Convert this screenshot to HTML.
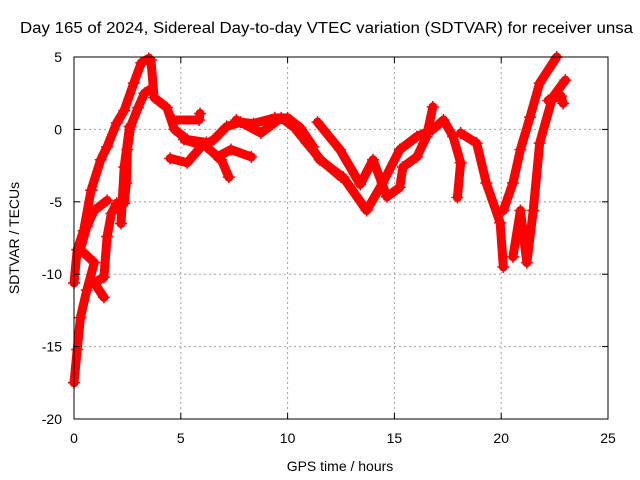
<!DOCTYPE html>
<html><head><meta charset="utf-8"><style>body{margin:0;background:#fff}svg{display:block;font-family:"Liberation Sans",sans-serif}</style></head>
<body>
<svg id="c" width="640" height="480">
<rect width="640" height="480" fill="#fff"/>
<g id="grid"></g>
<g id="series"></g>
<rect x="74" y="57" width="534" height="362" fill="none" stroke="#000" stroke-width="1"/>
<g id="ticks"></g>
<text x="20" y="33" font-size="15.5" textLength="613" lengthAdjust="spacingAndGlyphs">Day 165 of 2024, Sidereal Day-to-day VTEC variation (SDTVAR) for receiver unsa</text>
<text x="340" y="471" text-anchor="middle" font-size="14">GPS time / hours</text>
<text transform="translate(19,238) rotate(-90)" text-anchor="middle" font-size="14">SDTVAR / TECUs</text>
</svg>
<script>
const xTicks=[0,5,10,15,20,25];
const yTicks=[5,0,-5,-10,-15,-20];
const track1=[[0,-10.6],[0.15,-8.3],[0.45,-7],[0.8,-4.2],[1.25,-2.1],[1.55,-1.2],[2,0.45],[2.35,1.3],[2.8,3.2],[3.15,4.6],[3.5,4.9],[3.6,4.8],[3.75,2.2],[4.35,1.5],[4.7,0],[5.3,-0.7],[6.2,-0.9]];
const track2=[[1.4,-11.6],[0.95,-10.6],[1.4,-10.2],[1.55,-7.4],[1.75,-5.8],[2,-5.1],[2.35,-5.1],[2.45,-3.7],[2.5,-1.4],[2.65,0.2],[3,1.5],[3.3,2.5],[3.6,2.8]];
const track3=[[0,-17.5],[0.15,-15.2],[0.3,-13],[0.6,-11.1],[0.95,-9.2],[0.3,-8.3],[0.6,-6.7],[0.95,-5.6],[1.55,-4.9]];
const track4=[[2.2,-6.5],[2.35,-2.6],[2.6,0.2]];
const track5=[[4.68,0.65],[5.85,0.65],[5.9,1.1]];
const track6=[[4.5,-2],[5.3,-2.3],[5.95,-1.2],[6.55,-0.7],[7.15,0.2],[7.8,0.5],[8.4,0.4],[9.4,0.8],[10,0.8],[10.6,0.1],[11.2,-1.2]];
const track7=[[5.15,-0.7],[6.2,-1.2],[6.9,-2.1],[7.25,-3.3]];
const track8=[[6.7,-1.9],[7.35,-1.4],[8.3,-1.9]];
const track9=[[7.6,0.65],[8.75,-0.25],[9.7,0.8],[10.3,0.15],[10.9,-0.95],[11.55,-2.1],[12.5,-3.3]];
const track10=[[10.6,0],[11.5,-2.1],[12.6,-3.3],[13.7,-5.6],[14.45,-3.7],[15.25,-1.4],[16.05,-0.5],[16.8,0],[17.3,0.65],[17.75,-0.5],[18.1,-2.3],[17.95,-4.7]];
const track11=[[11.4,0.5],[12.45,-1.4],[13.4,-3.8],[14,-2.1],[14.65,-4.65],[15.25,-4],[15.4,-2.6],[16.05,-1.9],[16.5,-0.5],[16.8,1.55]];
const track12=[[18.1,-0.25],[18.85,-0.95],[19.3,-3.7],[19.95,-6.45],[20.1,-9.5]];
const track13=[[20.1,-5.6],[20.55,-3.7],[20.9,-1.4],[21.35,0.85],[21.8,3.2],[22.6,5]];
const track14=[[20.55,-8.8],[20.9,-5.6],[21.2,-9.2],[21.5,-5.6],[21.8,-0.95],[22.4,2.2],[23,3.4]];
const track15=[[22.2,2],[22.8,2.3],[22.9,1.8]];
const tracks=[track1,track2,track3,track4,track5,track6,track7,track8,track9,track10,track11,track12,track13,track14,track15];

const NS='http://www.w3.org/2000/svg';
const X0=74,X1=608,Y0=419,Y1=57;
function sx(v){return X0+(v-0)/25*(X1-X0);}
function sy(v){return Y0-(v+20)/25*(Y0-Y1);}
function mk(t,a,p){const e=document.createElementNS(NS,t);for(const k in a)e.setAttribute(k,a[k]);p.appendChild(e);return e;}
const grid=document.getElementById('grid'),ticks=document.getElementById('ticks'),ser=document.getElementById('series');
xTicks.forEach(v=>{const x=sx(v);
 if(v>0&&v<25){const l=mk('line',{x1:x,x2:x,y1:Y1,y2:Y0,stroke:'#a0a0a0','stroke-dasharray':'2,3'},grid);
 
 }
 const t=mk('text',{x:x,y:443,'text-anchor':'middle','font-size':14},ticks);t.textContent=v;
 
 
 mk('line',{x1:x,x2:x,y1:Y0,y2:Y0-6,stroke:'#000'},ticks);mk('line',{x1:x,x2:x,y1:Y1,y2:Y1+6,stroke:'#000'},ticks);});
yTicks.forEach(v=>{const y=sy(v);
 if(v<5&&v>-20){const l=mk('line',{x1:X0,x2:X1,y1:y,y2:y,stroke:'#a0a0a0','stroke-dasharray':'2,3'},grid);
 
 }
 const t=mk('text',{x:62,y:y+5,'text-anchor':'end','font-size':14},ticks);t.textContent=v;
 
 
 mk('line',{x1:X0,x2:X0+6,y1:y,y2:y,stroke:'#000'},ticks);mk('line',{x1:X1,x2:X1-6,y1:y,y2:y,stroke:'#000'},ticks);});
tracks.forEach((tr,i)=>{
 const g=mk('g',{},ser);
 
 
 mk('polyline',{points:tr.map(p=>sx(p[0])+','+sy(p[1])).join(' '),fill:'none',stroke:'#ff0000','stroke-width':9,'stroke-linejoin':'round','stroke-linecap':'round'},g);
 tr.forEach(p=>{const x=sx(p[0]),y=sy(p[1]);
  mk('path',{d:`M${x-6},${y}h12M${x},${y-6}v12`,stroke:'#ff0000','stroke-width':1.5},g);});
});
</script>
</body></html>
